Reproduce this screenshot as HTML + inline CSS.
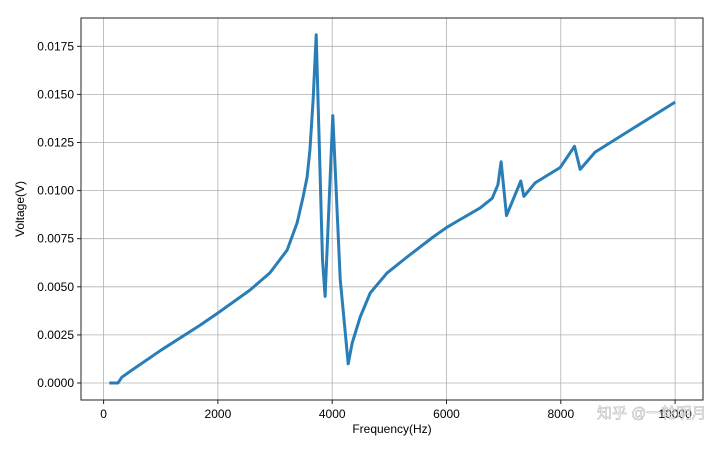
<!DOCTYPE html>
<html><head><meta charset="utf-8"><style>
body{margin:0;background:#fff;}
svg{display:block;font-family:"Liberation Sans","Noto Sans CJK SC",sans-serif;}
</style></head><body>
<svg id="chart" width="720" height="450" xmlns="http://www.w3.org/2000/svg">
<rect width="720" height="450" fill="#fff"/>
<g id="grid"></g>
<g id="ticks"></g>
<path id="line" fill="none" stroke="#1f77b4" stroke-width="3" stroke-linejoin="round" opacity="0.95"/>
<rect x="81" y="18" width="622" height="382" fill="none" stroke="#222" stroke-width="1"/>
<text transform="translate(24,209) rotate(-90)" text-anchor="middle" font-size="12">Voltage(V)</text>
<text x="392" y="433" text-anchor="middle" font-size="12">Frequency(Hz)</text>
<text x="597" y="418" font-size="15" fill="#fff" stroke="#aaa" stroke-width="0.5" opacity="0.9">知乎 @一轮明月</text>
</svg>
<script>
const freqs=[100,250,320,460,1000,1690,2000,2560,2910,3210,3385,3490,3560,3610,3665,3720,3830,3875,4010,4140,4280,4350,4490,4665,4960,5310,5765,6010,6240,6590,6800,6900,6955,7050,7300,7355,7550,7990,8240,8340,8600,10000];
const volts=[0,0,0.0003,0.0006,0.0017,0.00301,0.00364,0.00483,0.00572,0.00691,0.00832,0.00967,0.0107,0.0121,0.0147,0.0181,0.0064,0.0045,0.0139,0.0054,0.0010,0.00208,0.00343,0.00468,0.00572,0.00655,0.00759,0.0081,0.0085,0.0091,0.0096,0.0103,0.0115,0.0087,0.0105,0.0097,0.0104,0.0112,0.0123,0.0111,0.0120,0.0146];
const xTicks=[0,2000,4000,6000,8000,10000];
const yTicks=[0,0.0025,0.005,0.0075,0.01,0.0125,0.015,0.0175];
const yLabels=["0.0000","0.0025","0.0050","0.0075","0.0100","0.0125","0.0150","0.0175"];
const NS="http://www.w3.org/2000/svg";
function X(f){return 103.6+f/2000*114.3;}
function Y(v){return 383-v/0.0025*48.1;}
const grid=document.getElementById('grid'),ticks=document.getElementById('ticks');
function mk(tag,attrs,parent){const e=document.createElementNS(NS,tag);for(const k in attrs)e.setAttribute(k,attrs[k]);parent.appendChild(e);return e;}
xTicks.forEach(t=>{
 const g=mk('line',{x1:X(t),x2:X(t),y1:18,y2:400,stroke:'#b0b0b0','stroke-width':0.8},grid);
 
 
 mk('line',{x1:X(t),x2:X(t),y1:400,y2:404,stroke:'#222'},ticks);
 const tx=mk('text',{x:X(t),y:418,'text-anchor':'middle','font-size':12},ticks);
 tx.textContent=t;
 
 
});
yTicks.forEach((t,i)=>{
 const g=mk('line',{x1:81,x2:703,y1:Y(t),y2:Y(t),stroke:'#b0b0b0','stroke-width':0.8},grid);
 
 
 mk('line',{x1:77,x2:81,y1:Y(t),y2:Y(t),stroke:'#222'},ticks);
 const tx=mk('text',{x:74,y:Y(t)+4,'text-anchor':'end','font-size':12},ticks);
 tx.textContent=yLabels[i];
 
 
});
document.getElementById('line').setAttribute('d',freqs.map((f,i)=>(i?'L':'M')+X(f).toFixed(1)+','+Y(volts[i]).toFixed(1)).join(''));
</script>
</body></html>
